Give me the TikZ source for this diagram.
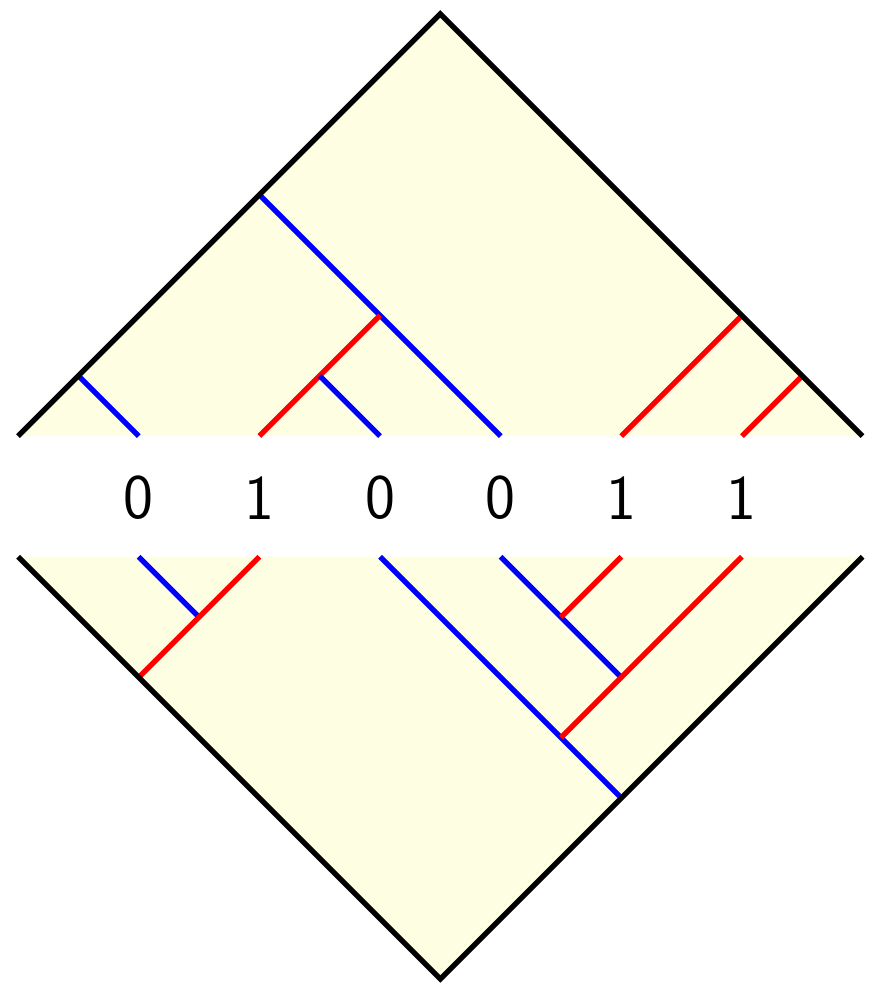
\documentclass[tikz,border=0pt]{standalone}
\definecolor{paleyel}{HTML}{FEFEE2}
\tikzset{
  edge/.style={line width=2.5pt, black},
  bl/.style={line width=2.5pt, blue},
  rd/.style={line width=2.5pt, red},
  lab/.style={font=\fontsize{30}{31}\selectfont\sffamily, inner sep=0pt}
}
\begin{document}
\begin{tikzpicture}[x=1cm,y=1cm]
\useasboundingbox (-0.3,-7.1) rectangle (14.25,9.23);
% upper triangle
\coordinate (UL) at (0,2); \coordinate (UT) at (7,9); \coordinate (UR) at (14,2);
\fill[paleyel] (UL) -- (UT) -- (UR) -- cycle;
% lower triangle
\coordinate (LL) at (0,0); \coordinate (LB) at (7,-7); \coordinate (LR) at (14,0);
\fill[paleyel] (LL) -- (LB) -- (LR) -- cycle;
% upper tree
\coordinate (u11) at (1,3); \coordinate (u20) at (2,2);
\coordinate (u44) at (4,6); \coordinate (u80) at (8,2);
\coordinate (u62) at (6,4); \coordinate (u40) at (4,2);
\coordinate (u51) at (5,3); \coordinate (u60) at (6,2);
\coordinate (u122) at (12,4); \coordinate (u100) at (10,2);
\coordinate (u131) at (13,3); \coordinate (u120) at (12,2);
\draw[bl] (u11) -- (u20);
\draw[bl] (u44) -- (u80);
\draw[rd] (u62) -- (u40);
\draw[bl] (u51) -- (u60);
\draw[rd] (u122) -- (u100);
\draw[rd] (u131) -- (u120);
% lower tree
\coordinate (l20) at (2,0); \coordinate (l31) at (3,-1);
\coordinate (l40) at (4,0); \coordinate (l22) at (2,-2);
\coordinate (l60) at (6,0); \coordinate (l104) at (10,-4);
\coordinate (l80) at (8,0); \coordinate (l102) at (10,-2);
\coordinate (l100) at (10,0); \coordinate (l91) at (9,-1);
\coordinate (l120) at (12,0); \coordinate (l93) at (9,-3);
\draw[bl] (l20) -- (l31);
\draw[rd] (l40) -- (l22);
\draw[bl] (l60) -- (l104);
\draw[bl] (l80) -- (l102);
\draw[rd] (l100) -- (l91);
\draw[rd] (l120) -- (l93);
% outer edges
\draw[edge, line join=miter] (UL) -- (UT) -- (UR);
\draw[edge, line join=miter] (LL) -- (LB) -- (LR);
% labels
\node[lab] (b1) at (2,0.98) {0};
\node[lab] (b2) at (4,0.98) {1};
\node[lab] (b3) at (6,0.98) {0};
\node[lab] (b4) at (8,0.98) {0};
\node[lab] (b5) at (10,0.98) {1};
\node[lab] (b6) at (12,0.98) {1};
\end{tikzpicture}
\end{document}
